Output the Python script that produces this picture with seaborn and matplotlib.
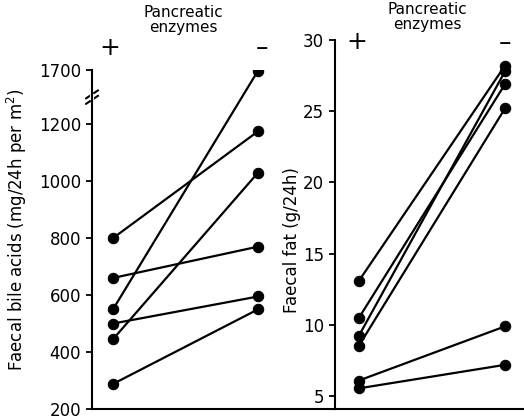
import numpy as np
import pandas as pd
import matplotlib
matplotlib.use("Agg")
import matplotlib.pyplot as plt
import seaborn as sns

# bile acids (mg/24h per m2): with (+) and without (-) pancreatic enzymes
bile_with = [800, 660, 550, 500, 445, 288]
bile_without = [1175, 770, 1695, 595, 1030, 550]

# faecal fat (g/24h)
fat_with = [13.1, 10.5, 9.25, 8.55, 6.1, 5.55]
fat_without = [28.2, 26.9, 27.8, 25.2, 9.9, 7.2]

bile_ticks = [200, 400, 600, 800, 1000, 1200, 1700]
fat_ticks = [5, 10, 15, 20, 25, 30]


def long_form(before, after):
    n = len(before)
    return pd.DataFrame({
        "subject": list(range(n)) * 2,
        "cond": [0] * n + [1] * n,
        "value": list(before) + list(after),
    })


# compress the range above the break (1200 -> 1700)
K = 0.38


def fwd(y):
    y = np.asarray(y, dtype=float)
    return np.where(y <= 1200, y, 1200 + (y - 1200) * K)


def inv(y):
    y = np.asarray(y, dtype=float)
    return np.where(y <= 1200, y, 1200 + (y - 1200) / K)


sns.set_style("ticks")
plt.rcParams["font.family"] = ["DejaVu Sans"]
plt.rcParams["font.size"] = 12
plt.rcParams["text.color"] = "black"

fig = plt.figure(figsize=(5.24, 4.2), dpi=100)
W, H = 524, 420

ax1 = fig.add_axes([92 / W, 11 / H, 243 / W, 339 / H])
ax2 = fig.add_axes([335 / W, 11 / H, 189 / W, 369 / H])

line_kw = dict(x="cond", y="value", units="subject", estimator=None,
               color="black", marker="o", markersize=7.5, linewidth=1.6,
               markeredgecolor="black", legend=False)

ax1.set_yscale("function", functions=(fwd, inv))
sns.lineplot(data=long_form(bile_with, bile_without), ax=ax1, **line_kw)
ax1.set_ylim(200, 1700)
ax1.set_xlim(-0.145, 1.53)
ax1.set_yticks(bile_ticks)
ax1.set_yticklabels([str(t) for t in bile_ticks])

sns.lineplot(data=long_form(fat_with, fat_without), ax=ax2, **line_kw)
ax2.set_ylim(4.1, 30)
ax2.set_xlim(-0.164, 1.13)
ax2.set_yticks(fat_ticks)
ax2.set_yticklabels([str(t) for t in fat_ticks])

for ax in (ax1, ax2):
    sns.despine(ax=ax)
    ax.set_xticks([])
    ax.set_xlabel("")
    ax.set_ylabel("")
    ax.tick_params(axis="y", direction="out", length=4, width=1.3,
                   labelsize=12, pad=4, colors="black")
    for s in ("left", "bottom"):
        ax.spines[s].set_linewidth(1.5)
        ax.spines[s].set_color("black")

# break marks on the left axis
for yb in (0.912, 0.928):
    ax1.plot([-0.025, 0.025], [yb - 0.012, yb + 0.012], transform=ax1.transAxes,
             color="black", lw=1.5, clip_on=False)
ax1.plot([0, 0], [0.914, 0.926], transform=ax1.transAxes, color="white",
         lw=3, clip_on=False)

# axis labels
fig.text(17 / W, 1 - 230 / H, "Faecal bile acids (mg/24h per m$^2$)",
         rotation=90, ha="center", va="center", fontsize=12)
fig.text(292 / W, 1 - 240 / H, "Faecal fat (g/24h)",
         rotation=90, ha="center", va="center", fontsize=12)

# headers
fig.text(183 / W, 1 - 20 / H, "Pancreatic\nenzymes", ha="center", va="center",
         fontsize=11, linespacing=0.95)
fig.text(427 / W, 1 - 17 / H, "Pancreatic\nenzymes", ha="center", va="center",
         fontsize=11, linespacing=0.95)
fig.text(110 / W, 1 - 48 / H, "+", ha="center", va="center", fontsize=18)
fig.text(262 / W, 1 - 48 / H, "\u2013", ha="center", va="center", fontsize=18)
fig.text(357 / W, 1 - 42 / H, "+", ha="center", va="center", fontsize=18)
fig.text(505 / W, 1 - 43 / H, "\u2013", ha="center", va="center", fontsize=18)

fig.savefig("out.png", dpi=100)
